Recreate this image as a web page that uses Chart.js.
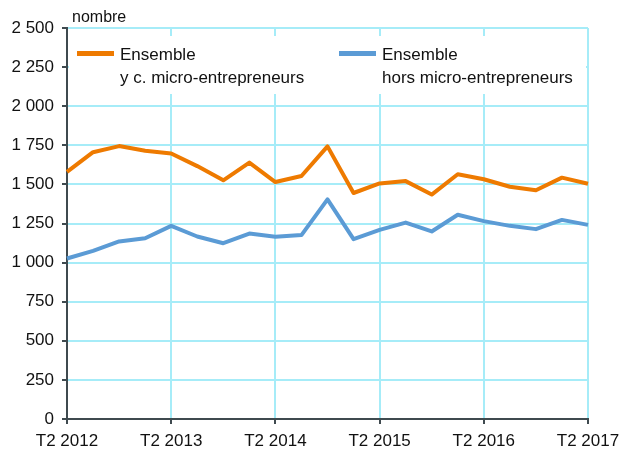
<!DOCTYPE html>
<html>
<head>
<meta charset="utf-8">
<script src="https://cdn.jsdelivr.net/npm/chart.js@4/dist/chart.umd.min.js"></script>
<style>
  html, body { margin: 0; padding: 0; background: #fff; }
  #wrap { width: 619px; height: 450px; position: relative; }
</style>
</head>
<body>
<div id="wrap"><canvas id="chart" width="619" height="450"></canvas></div>
<script>
// ---- DATA ----
const quarters = [
  "T2 2012","T3 2012","T4 2012","T1 2013",
  "T2 2013","T3 2013","T4 2013","T1 2014",
  "T2 2014","T3 2014","T4 2014","T1 2015",
  "T2 2015","T3 2015","T4 2015","T1 2016",
  "T2 2016","T3 2016","T4 2016","T1 2017",
  "T2 2017"
];
const avecMicro = [1580,1706,1745,1715,1698,1617,1526,1639,1515,1554,1743,1445,1506,1521,1435,1565,1533,1485,1463,1543,1504];
const horsMicro = [1026,1075,1135,1156,1235,1167,1124,1186,1165,1176,1404,1150,1209,1256,1199,1306,1265,1235,1214,1273,1241];
const seriesNames = [["Ensemble","y c. micro-entrepreneurs"],["Ensemble","hors micro-entrepreneurs"]];
const yMax = 2500, yStep = 250;

// ---- STYLE ----
const ORANGE = "#ee7a00";
const BLUE   = "#5b9bd5";
const GRID   = "#a6ecf8";
const AXIS   = "#3f4a4f";
const FONT   = "'Liberation Sans', Arial, sans-serif";

const fmt = v => String(v).replace(/\B(?=(\d{3})+(?!\d))/g, " ");

// legend + unit label, drawn on the canvas
const legendPlugin = {
  id: "boxLegend",
  beforeDatasetsDraw(chart){
    const c = chart.ctx, a = chart.chartArea;
    c.save();
    c.fillStyle = "#fff";
    c.fillRect(a.left + 2, 36, a.right - a.left - 4, 58);
    c.font = "17px " + FONT;
    c.textBaseline = "middle";
    const items = [{x:77, color:ORANGE, lines:seriesNames[0]}, {x:339, color:BLUE, lines:seriesNames[1]}];
    items.forEach(it=>{
      c.fillStyle = it.color;
      c.fillRect(it.x, 51, 37, 5);
      c.fillStyle = "#111";
      c.fillText(it.lines[0], it.x + 43, 55);
      c.fillText(it.lines[1], it.x + 43, 78);
    });
    c.font = "16px " + FONT;
    c.fillText("nombre", 72, 18);
    c.restore();
  }
};

new Chart(document.getElementById("chart"), {
  type: "line",
  data: {
    labels: quarters,
    datasets: [
      { label: seriesNames[0].join(" "), data: avecMicro, borderColor: ORANGE, backgroundColor: ORANGE,
        borderWidth: 4, pointRadius: 0, tension: 0, borderJoinStyle: "round" },
      { label: seriesNames[1].join(" "), data: horsMicro, borderColor: BLUE, backgroundColor: BLUE,
        borderWidth: 4, pointRadius: 0, tension: 0, borderJoinStyle: "round" }
    ]
  },
  options: {
    responsive: false,
    animation: false,
    layout: { padding: { top: 28, right: 31, bottom: 0, left: 0 } },
    plugins: { legend: { display: false }, tooltip: { enabled: false } },
    scales: {
      x: {
        offset: false,
        afterFit: s => { s.height = 31; s.paddingLeft = 0; s.paddingRight = 0; },
        grid: {
          color: ctx => ctx.index % 4 === 0 ? GRID : "transparent",
          tickColor: ctx => ctx.index % 4 === 0 ? AXIS : "transparent",
          lineWidth: 2, tickLength: 5
        },
        border: { color: AXIS, width: 2 },
        ticks: {
          autoSkip: false, maxRotation: 0, padding: 7,
          color: "#111", font: { family: FONT, size: 17 },
          callback: (v, i) => i % 4 === 0 ? quarters[i] : ""
        }
      },
      y: {
        min: 0, max: yMax,
        afterFit: s => { s.width = 67; },
        grid: { color: GRID, lineWidth: 2, tickColor: AXIS, tickLength: 5 },
        border: { color: AXIS, width: 2 },
        ticks: {
          stepSize: yStep, padding: 8,
          color: "#111", font: { family: FONT, size: 17 },
          callback: v => fmt(v)
        }
      }
    }
  },
  plugins: [legendPlugin]
});
</script>
</body>
</html>
